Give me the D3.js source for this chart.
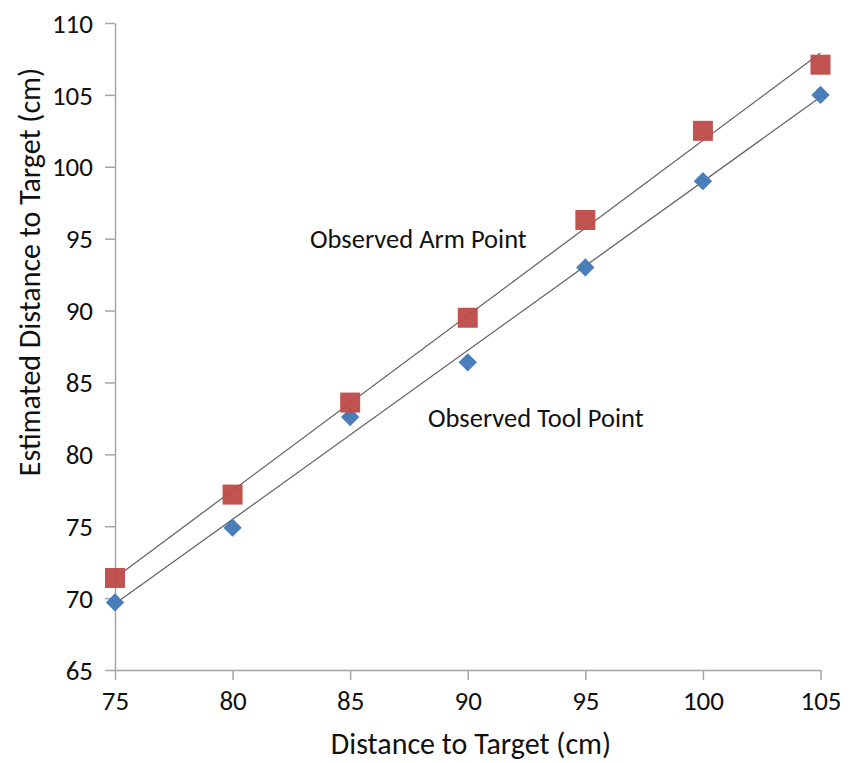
<!DOCTYPE html>
<html>
<head>
<meta charset="utf-8">
<script src="https://cdn.jsdelivr.net/npm/d3@7"></script>
<style>
    body { margin: 0; background: white; }
    svg text { font-family: Carlito, Lato, "Open Sans", sans-serif; fill: #111; }
</style>
</head>
<body>
<div id="chart"></div>
<script>
var distances = [75, 80, 85, 90, 95, 100, 105];
var armPoint = [71.4, 77.2, 83.6, 89.5, 96.3, 102.5, 107.1];
var toolPoint = [69.7, 74.9, 82.6, 86.4, 93.0, 99.0, 105.0];
var xTicks = [75, 80, 85, 90, 95, 100, 105];
var yTicks = [65, 70, 75, 80, 85, 90, 95, 100, 105, 110];

// least squares fit, used for the trend lines
function linearFit(xs, ys) {
    const mx = d3.mean(xs);
    const my = d3.mean(ys);
    let num = 0, den = 0;
    xs.forEach((x, i) => {
        num += (x - mx) * (ys[i] - my);
        den += (x - mx) * (x - mx);
    });
    const slope = num / den;
    return x => my + slope * (x - mx);
}

function createChart() {
    const width = 854;
    const height = 763;

    const svg = d3.select('#chart').append('svg')
        .attr('width', width)
        .attr('height', height);

    const xScale = d3.scaleLinear()
        .domain([75, 105])
        .range([115, 820.5]);

    const yScale = d3.scaleLinear()
        .domain([65, 110])
        .range([670, 23]);

    const axisColor = '#a6a6a6';

    // y axis
    const yAxis = svg.append('g')
        .attr('transform', `translate(${xScale(75)},0)`)
        .call(d3.axisLeft(yScale).tickValues(yTicks).tickSize(10).tickSizeOuter(0).tickPadding(12));
    yAxis.selectAll('text').style('font-size', '27px').attr('dy', '0.34em');

    // x axis
    const xAxis = svg.append('g')
        .attr('transform', `translate(0,${yScale(65)})`)
        .call(d3.axisBottom(xScale).tickValues(xTicks).tickSize(10).tickSizeOuter(0).tickPadding(11));
    xAxis.selectAll('text').style('font-size', '27px');

    svg.selectAll('.domain, .tick line')
        .attr('stroke', axisColor)
        .attr('stroke-width', 1.5);
    svg.selectAll('.tick text').attr('fill', '#111');

    // trend lines
    const lineGenerator = d3.line()
        .x(d => xScale(d[0]))
        .y(d => yScale(d[1]));

    [armPoint, toolPoint].forEach(series => {
        const fit = linearFit(distances, series);
        const ends = [75, 105].map(x => [x, fit(x)]);
        svg.append('path')
            .attr('d', lineGenerator(ends))
            .attr('fill', 'none')
            .attr('stroke', '#666')
            .attr('stroke-width', 1.3);
    });

    // tool points (diamonds)
    svg.selectAll('.tool')
        .data(d3.zip(distances, toolPoint))
        .enter().append('path')
        .attr('class', 'tool')
        .attr('d', d3.symbol().type(d3.symbolDiamond2).size(215))
        .attr('transform', d => `translate(${xScale(d[0])},${yScale(d[1])})`)
        .attr('fill', '#4a7ebb');

    // arm points (squares)
    svg.selectAll('.arm')
        .data(d3.zip(distances, armPoint))
        .enter().append('rect')
        .attr('class', 'arm')
        .attr('x', d => xScale(d[0]) - 10)
        .attr('y', d => yScale(d[1]) - 10)
        .attr('width', 20)
        .attr('height', 20)
        .attr('fill', '#be4b48')
        .attr('opacity', 0.95);

    // labels
    svg.append('text')
        .attr('x', 310)
        .attr('y', 248)
        .style('font-size', '26.5px')
        .text('Observed Arm Point');

    svg.append('text')
        .attr('x', 428)
        .attr('y', 427)
        .style('font-size', '26.5px')
        .text('Observed Tool Point');

    svg.append('text')
        .attr('x', 471)
        .attr('y', 754)
        .attr('text-anchor', 'middle')
        .style('font-size', '30px')
        .text('Distance to Target (cm)');

    svg.append('text')
        .attr('transform', 'translate(40,272) rotate(-90)')
        .attr('text-anchor', 'middle')
        .style('font-size', '30px')
        .text('Estimated Distance to Target (cm)');
}

createChart();
</script>
</body>
</html>
